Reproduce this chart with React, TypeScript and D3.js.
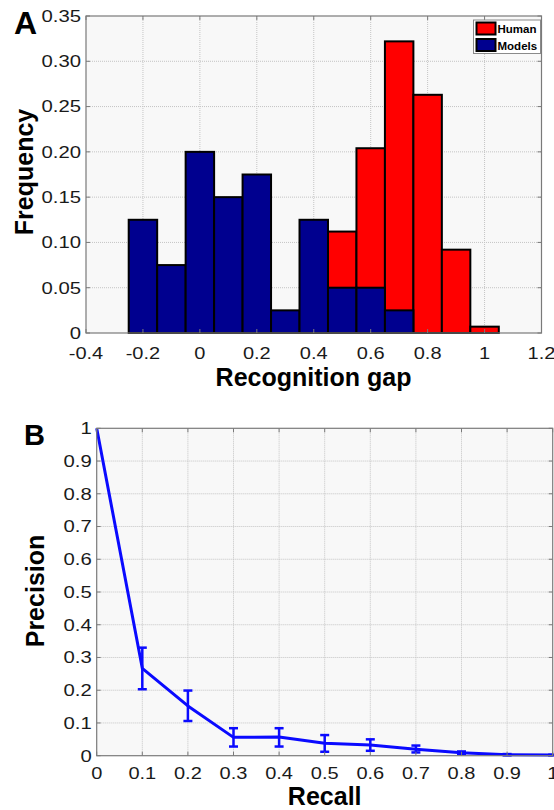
import { useEffect, useRef } from "react";
import * as d3 from "d3";

// Panel A: histogram of recognition gap
const binCenters = [-0.2, -0.1, 0, 0.1, 0.2, 0.3, 0.4, 0.5, 0.6, 0.7, 0.8, 0.9, 1.0];
const modelFreq = [0.125, 0.075, 0.2, 0.15, 0.175, 0.025, 0.125, 0.05, 0.05, 0.025, 0, 0, 0];
const humanFreq = [0, 0, 0, 0, 0, 0, 0, 0.112, 0.204, 0.322, 0.263, 0.092, 0.007];
const xTicksA = [-0.4, -0.2, 0, 0.2, 0.4, 0.6, 0.8, 1, 1.2];
const xTickLabelsA = ["-0.4", "-0.2", "0", "0.2", "0.4", "0.6", "0.8", "1", "1.2"];
const yTicksA = [0, 0.05, 0.1, 0.15, 0.2, 0.25, 0.3, 0.35];
const yTickLabelsA = ["0", "0.05", "0.10", "0.15", "0.20", "0.25", "0.30", "0.35"];
const legendA = ["Human", "Models"];

// Panel B: precision vs recall with error bars
const recall = [0, 0.1, 0.2, 0.3, 0.4, 0.5, 0.6, 0.7, 0.8, 0.9, 1.0];
const precision = [1, 0.267, 0.152, 0.056, 0.057, 0.038, 0.033, 0.02, 0.009, 0.003, 0.002];
const precLow = [1, 0.203, 0.106, 0.028, 0.028, 0.012, 0.015, 0.01, 0.005, 0.001, 0.001];
const precHigh = [1, 0.33, 0.199, 0.084, 0.084, 0.063, 0.05, 0.031, 0.013, 0.005, 0.003];
const ticksB = [0, 0.1, 0.2, 0.3, 0.4, 0.5, 0.6, 0.7, 0.8, 0.9, 1];
const tickLabelsB = ["0", "0.1", "0.2", "0.3", "0.4", "0.5", "0.6", "0.7", "0.8", "0.9", "1"];

const RED = "#ff0000";
const NAVY = "#00008f";
const BLUE = "#0a0aff";
const FONT = "'Liberation Sans', Arial, Helvetica, sans-serif";

export default function App() {
  const svgRef = useRef<SVGSVGElement>(null);

  useEffect(() => {
    if (!svgRef.current) return;
    const svg = d3.select(svgRef.current);
    svg.selectAll("*").remove();

    svg.append("rect").attr("width", 554).attr("height", 810).attr("fill", "#ffffff");

    // plot background + dotted grid
    function frame(
      x: d3.ScaleLinear<number, number>,
      y: d3.ScaleLinear<number, number>,
      xt: number[],
      yt: number[]
    ) {
      const [x0, x1] = x.range();
      const [y0, y1] = y.range();
      const g = svg.append("g");
      g.append("rect")
        .attr("x", x0)
        .attr("y", y1)
        .attr("width", x1 - x0)
        .attr("height", y0 - y1)
        .attr("fill", "#f8f8f8");
      g.selectAll(".gx")
        .data(xt.slice(1, -1))
        .join("line")
        .attr("x1", (d) => x(d))
        .attr("x2", (d) => x(d))
        .attr("y1", y0)
        .attr("y2", y1)
        .attr("stroke", "#c4c4c4")
        .attr("stroke-width", 1)
        .attr("stroke-dasharray", "1,1");
      g.selectAll(".gy")
        .data(yt.slice(1, -1))
        .join("line")
        .attr("y1", (d) => y(d))
        .attr("y2", (d) => y(d))
        .attr("x1", x0)
        .attr("x2", x1)
        .attr("stroke", "#c4c4c4")
        .attr("stroke-width", 1)
        .attr("stroke-dasharray", "1,1");
    }

    // box, inside ticks and (wide) tick labels, drawn over the data
    function axesOver(
      x: d3.ScaleLinear<number, number>,
      y: d3.ScaleLinear<number, number>,
      xt: number[],
      xl: string[],
      yt: number[],
      yl: string[],
      xLabelY: number
    ) {
      const [x0, x1] = x.range();
      const [y0, y1] = y.range();
      const g = svg.append("g");
      const tl = 4;
      xt.forEach((t) => {
        g.append("line").attr("x1", x(t)).attr("x2", x(t)).attr("y1", y0).attr("y2", y0 - tl).attr("stroke", "#7a7a7a");
        g.append("line").attr("x1", x(t)).attr("x2", x(t)).attr("y1", y1).attr("y2", y1 + tl).attr("stroke", "#7a7a7a");
      });
      yt.forEach((t) => {
        g.append("line").attr("y1", y(t)).attr("y2", y(t)).attr("x1", x0).attr("x2", x0 + tl).attr("stroke", "#7a7a7a");
        g.append("line").attr("y1", y(t)).attr("y2", y(t)).attr("x1", x1).attr("x2", x1 - tl).attr("stroke", "#7a7a7a");
      });
      g.append("rect")
        .attr("x", x0)
        .attr("y", y1)
        .attr("width", x1 - x0)
        .attr("height", y0 - y1)
        .attr("fill", "none")
        .attr("stroke", "#7a7a7a")
        .attr("stroke-width", 1.2);
      xt.forEach((t, i) => {
        g.append("text")
          .attr("transform", `translate(${x(t)},${xLabelY}) scale(1.25,1)`)
          .attr("text-anchor", "middle")
          .attr("font-family", FONT)
          .attr("font-size", 16)
          .attr("fill", "#1a1a1a")
          .text(xl[i]);
      });
      yt.forEach((t, i) => {
        g.append("text")
          .attr("transform", `translate(${x0 - 5},${y(t) + 5.8}) scale(1.27,1)`)
          .attr("text-anchor", "end")
          .attr("font-family", FONT)
          .attr("font-size", 16)
          .attr("fill", "#1a1a1a")
          .text(yl[i]);
      });
    }

    function boldText(txt: string, x: number, y: number, size: number, rot = 0, anchor = "middle") {
      svg
        .append("text")
        .attr("transform", `translate(${x},${y}) rotate(${rot})`)
        .attr("text-anchor", anchor)
        .attr("font-family", FONT)
        .attr("font-weight", "bold")
        .attr("font-size", size)
        .attr("fill", "#000")
        .text(txt);
    }

    // ---------- Panel A ----------
    const xA = d3.scaleLinear().domain([-0.4, 1.2]).range([86, 541.5]);
    const yA = d3.scaleLinear().domain([0, 0.35]).range([333, 16]);
    frame(xA, yA, xTicksA, yTicksA);

    const bw = 0.1;
    const barsA = svg.append("g");
    [
      { vals: humanFreq, color: RED },
      { vals: modelFreq, color: NAVY },
    ].forEach((s) => {
      barsA
        .append("g")
        .selectAll("rect")
        .data(binCenters.map((c, i) => ({ c, v: s.vals[i] })).filter((d) => d.v > 0))
        .join("rect")
        .attr("x", (d) => xA(d.c - bw / 2))
        .attr("width", (d) => xA(d.c + bw / 2) - xA(d.c - bw / 2))
        .attr("y", (d) => yA(d.v))
        .attr("height", (d) => yA(0) - yA(d.v))
        .attr("fill", s.color)
        .attr("stroke", "#000")
        .attr("stroke-width", 2);
    });
    axesOver(xA, yA, xTicksA, xTickLabelsA, yTicksA, yTickLabelsA, 358.5);

    // legend
    const lg = svg.append("g");
    lg.append("rect")
      .attr("x", 473.5)
      .attr("y", 20)
      .attr("width", 67)
      .attr("height", 33.5)
      .attr("fill", "#ffffff")
      .attr("stroke", "#8a8a8a")
      .attr("stroke-width", 1);
    legendA.forEach((name, i) => {
      lg.append("rect")
        .attr("x", 476.5)
        .attr("y", 22.5 + i * 16.5)
        .attr("width", 19)
        .attr("height", 12)
        .attr("fill", i === 0 ? RED : NAVY)
        .attr("stroke", "#000")
        .attr("stroke-width", 2);
      lg.append("text")
        .attr("x", 497.5)
        .attr("y", 33 + i * 16.5)
        .attr("font-family", FONT)
        .attr("font-weight", "bold")
        .attr("font-size", 11.5)
        .attr("fill", "#000")
        .text(name);
    });

    boldText("A", 14, 34, 32, 0, "start");
    boldText("Frequency", 33, 172, 25, -90);
    boldText("Recognition gap", 313.5, 386, 25);

    // ---------- Panel B ----------
    const xB = d3.scaleLinear().domain([0, 1]).range([96.7, 552.7]);
    const yB = d3.scaleLinear().domain([0, 1]).range([755.7, 428.3]);
    frame(xB, yB, ticksB, ticksB);

    const gB = svg.append("g");
    const line = d3
      .line<number>()
      .x((_, i) => xB(recall[i]))
      .y((d) => yB(d));
    gB.append("path")
      .attr("d", line(precision) as string)
      .attr("fill", "none")
      .attr("stroke", BLUE)
      .attr("stroke-width", 3)
      .attr("stroke-linejoin", "round");

    const cap = 4.5;
    recall.forEach((r, i) => {
      if (i === 0) return;
      const cx = xB(r);
      const lo = yB(precLow[i]);
      const hi = yB(precHigh[i]);
      gB.append("line").attr("x1", cx).attr("x2", cx).attr("y1", lo).attr("y2", hi).attr("stroke", BLUE).attr("stroke-width", 2.5);
      gB.append("line").attr("x1", cx - cap).attr("x2", cx + cap).attr("y1", lo).attr("y2", lo).attr("stroke", BLUE).attr("stroke-width", 2.5);
      gB.append("line").attr("x1", cx - cap).attr("x2", cx + cap).attr("y1", hi).attr("y2", hi).attr("stroke", BLUE).attr("stroke-width", 2.5);
    });
    axesOver(xB, yB, ticksB, tickLabelsB, ticksB, tickLabelsB, 778.5);

    boldText("B", 24, 445, 29, 0, "start");
    boldText("Precision", 43.5, 591, 25, -90);
    boldText("Recall", 324.7, 805, 25);
  }, []);

  return (
    <div style={{ position: "absolute", left: 0, top: 0, width: 554, height: 810 }}>
      <svg ref={svgRef} width={554} height={810} style={{ display: "block" }} />
    </div>
  );
}
